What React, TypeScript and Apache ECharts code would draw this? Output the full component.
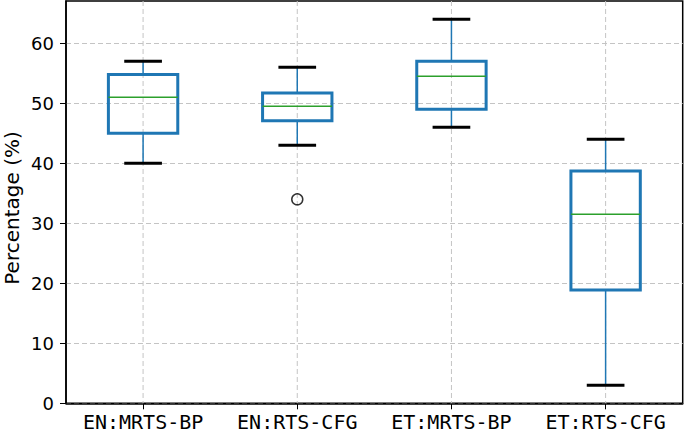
import React, { useEffect, useRef } from "react";
import * as echarts from "echarts";

const categories = ["EN:MRTS-BP", "EN:RTS-CFG", "ET:MRTS-BP", "ET:RTS-CFG"];
const whiskerLow = [40, 43, 46, 3];
const quartile1 = [45, 47.1, 49, 18.9];
const medians = [51, 49.5, 54.5, 31.5];
const quartile3 = [54.8, 51.7, 57, 38.7];
const whiskerHigh = [57, 56, 64, 44];
const outlierCategories = ["EN:RTS-CFG"];
const outlierValues = [34];
const yTicks = [0, 10, 20, 30, 40, 50, 60];
const yLabel = "Percentage (%)";

export default function App() {
  const ref = useRef<HTMLDivElement>(null);
  useEffect(() => {
    if (!ref.current) return;
    const chart = echarts.init(ref.current, undefined, { renderer: "svg" });
    const boxData = categories.map((_, i) => [
      i,
      whiskerLow[i],
      quartile1[i],
      medians[i],
      quartile3[i],
      whiskerHigh[i],
    ]);
    const option: any = {
      animation: false,
      backgroundColor: "#ffffff",
      grid: {
        left: 66,
        top: 1,
        width: 616.7,
        height: 402.3,
        show: true,
        borderColor: "#000000",
        borderWidth: 1.5,
        backgroundColor: "transparent",
      },
      xAxis: {
        type: "category",
        data: categories,
        boundaryGap: true,
        axisLine: { show: true, lineStyle: { color: "#000", width: 1.5 } },
        axisTick: { show: true, alignWithLabel: true, interval: 0, length: 6, lineStyle: { color: "#000", width: 1 } },
        axisLabel: {
          color: "#000",
          fontFamily: "DejaVu Sans Mono",
          fontSize: 20,
          margin: 9,
          interval: 0,
          hideOverlap: false,
        },
        splitLine: { show: false },
      },
      yAxis: {
        type: "value",
        min: 0,
        max: 67.05,
        interval: 10,
        axisLine: { show: true, lineStyle: { color: "#000", width: 1.5 } },
        axisTick: { show: true, length: 6, lineStyle: { color: "#000", width: 1 }, customValues: yTicks },
        axisLabel: {
          color: "#000",
          fontFamily: "DejaVu Sans",
          fontSize: 18,
          margin: 12,
          customValues: yTicks,
        },
        splitLine: { show: true, lineStyle: { color: "#c4c4c4", width: 1, type: [5, 3] } },
      },
      graphic: [
        {
          type: "text",
          x: 11.5,
          y: 208,
          rotation: Math.PI / 2,
          style: {
            text: yLabel,
            fill: "#000",
            font: "20px 'DejaVu Sans'",
            textAlign: "center",
            textVerticalAlign: "middle",
          },
        },
      ],
      series: [
        {
          type: "custom",
          data: boxData,
          encode: { x: 0, y: [1, 2, 3, 4, 5] },
          renderItem: (params: any, api: any) => {
            const idx = api.value(0);
            const cs = params.coordSys;
            const band = api.size([1, 0])[0];
            const boxW = band * 0.45;
            const capW = band * 0.225;
            const pLow = api.coord([idx, api.value(1)]);
            const pQ1 = api.coord([idx, api.value(2)]);
            const pMed = api.coord([idx, api.value(3)]);
            const pQ3 = api.coord([idx, api.value(4)]);
            const pHigh = api.coord([idx, api.value(5)]);
            const x = pLow[0];
            return {
              type: "group",
              children: [
                {
                  type: "line",
                  shape: { x1: x, y1: cs.y, x2: x, y2: cs.y + cs.height },
                  style: { stroke: "#c4c4c4", lineWidth: 1, lineDash: [5, 3] },
                  silent: true,
                },
                {
                  type: "line",
                  shape: { x1: x, y1: pQ1[1], x2: x, y2: pLow[1] },
                  style: { stroke: "#1f77b4", lineWidth: 1.5 },
                },
                {
                  type: "line",
                  shape: { x1: x, y1: pQ3[1], x2: x, y2: pHigh[1] },
                  style: { stroke: "#1f77b4", lineWidth: 1.5 },
                },
                {
                  type: "line",
                  shape: { x1: x - capW / 2, y1: pLow[1], x2: x + capW / 2, y2: pLow[1] },
                  style: { stroke: "#000", lineWidth: 3, lineCap: "square" },
                },
                {
                  type: "line",
                  shape: { x1: x - capW / 2, y1: pHigh[1], x2: x + capW / 2, y2: pHigh[1] },
                  style: { stroke: "#000", lineWidth: 3, lineCap: "square" },
                },
                {
                  type: "rect",
                  shape: { x: x - boxW / 2, y: pQ3[1], width: boxW, height: pQ1[1] - pQ3[1] },
                  style: { fill: "none", stroke: "#1f77b4", lineWidth: 3, lineJoin: "miter" },
                },
                {
                  type: "line",
                  shape: { x1: x - boxW / 2, y1: pMed[1], x2: x + boxW / 2, y2: pMed[1] },
                  style: { stroke: "#2ca02c", lineWidth: 1.5 },
                },
              ],
            };
          },
        },
        {
          type: "scatter",
          data: outlierCategories.map((c, i) => [c, outlierValues[i]]),
          symbol: "circle",
          symbolSize: 11,
          itemStyle: { color: "none", borderColor: "#000", borderWidth: 1.5 },
          z: 5,
        },
      ],
    };
    chart.setOption(option);
    return () => chart.dispose();
  }, []);
  return (
    <div
      ref={ref}
      style={{ position: "fixed", left: 0, top: 0, width: 685, height: 434, background: "#fff" }}
    />
  );
}
